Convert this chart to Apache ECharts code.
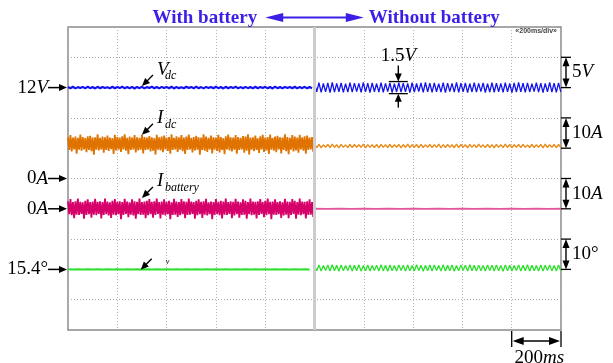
<!DOCTYPE html>
<html>
<head>
<meta charset="utf-8">
<script src="https://cdn.jsdelivr.net/npm/echarts@6/dist/echarts.min.js"></script>
<style>
  html, body { margin: 0; padding: 0; background: #fff; }
  #chart { width: 613px; height: 363px; }
</style>
</head>
<body>
<div id="chart"></div>
<script>
// ---- Time base (ms) -------------------------------------------------------
const timeSpan = [0, 2000];
const timeDiv = 200;          // 200 ms per division
const switchTime = 1000;      // battery disconnected here

// ---- Vdc (V) ------------------------------------------------------------
const vdcWithStep = 10;
const vdcWith = [
  12.10, 11.90, 12.14, 11.87, 12.08, 11.92, 12.12, 11.88, 12.15, 11.91,
  12.09, 11.86, 12.13, 11.90, 12.11, 11.93, 12.07, 11.88, 12.14, 11.89,
  12.10, 11.92, 12.16, 11.87, 12.09, 11.90, 12.12, 11.85, 12.11, 11.91,
  12.13, 11.88, 12.08, 11.93, 12.15, 11.89, 12.10, 11.87, 12.12, 11.92,
  12.09, 11.90, 12.14, 11.86, 12.11, 11.91, 12.07, 11.89, 12.13, 11.92,
  12.10, 11.88, 12.16, 11.90, 12.08, 11.87, 12.12, 11.93, 12.11, 11.89,
  12.14, 11.91, 12.09, 11.86, 12.13, 11.90, 12.10, 11.92, 12.15, 11.88,
  12.08, 11.89, 12.12, 11.91, 12.11, 11.87, 12.14, 11.90, 12.09, 11.93,
  12.13, 11.88, 12.10, 11.86, 12.15, 11.91, 12.08, 11.89, 12.12, 11.92,
  12.11, 11.90, 12.14, 11.87, 12.09, 11.91, 12.13, 11.88, 12.10, 11.90
];
const vdcWithoutStep = 9;
const vdcWithout = [
  12.72, 11.28, 12.80, 11.22, 12.68, 11.30, 12.76, 11.18, 12.84, 11.26,
  12.70, 11.32, 12.78, 11.20, 12.66, 11.27, 12.82, 11.24, 12.74, 11.34,
  12.69, 11.21, 12.85, 11.29, 12.73, 11.17, 12.77, 11.31, 12.67, 11.25,
  12.81, 11.23, 12.71, 11.33, 12.79, 11.19, 12.65, 11.28, 12.83, 11.26,
  12.75, 11.30, 12.70, 11.16, 12.80, 11.27, 12.68, 11.35, 12.76, 11.22,
  12.84, 11.29, 12.72, 11.20, 12.78, 11.31, 12.66, 11.24, 12.82, 11.18,
  12.74, 11.33, 12.69, 11.26, 12.85, 11.21, 12.73, 11.30, 12.77, 11.17,
  12.67, 11.28, 12.81, 11.25, 12.71, 11.34, 12.79, 11.19, 12.65, 11.27,
  12.83, 11.23, 12.75, 11.32, 12.70, 11.20, 12.80, 11.29, 12.68, 11.16,
  12.76, 11.26, 12.84, 11.31, 12.72, 11.22, 12.78, 11.28, 12.66, 11.35,
  12.82, 11.24, 12.74, 11.18, 12.69, 11.30, 12.85, 11.27, 12.73, 11.21,
  12.77, 11.29
];
const vdcRipple = [11.25, 12.75];   // 1.5 V peak-to-peak

// ---- Idc (A) ------------------------------------------------------------
const idcWithStep = 5;
const idcWith = [
  13.6, 9.4, 14.3, 8.9, 13.5, 9.6, 13.8, 8.2, 13.4, 9.5,
  14.5, 9.2, 13.7, 9.6, 13.3, 8.7, 13.9, 9.4, 14.1, 9.0,
  13.5, 7.9, 13.6, 9.5, 14.6, 9.3, 13.4, 9.6, 13.8, 8.5,
  13.6, 9.4, 14.2, 9.1, 13.5, 9.7, 13.3, 8.1, 14.4, 9.3,
  13.7, 9.5, 13.5, 8.8, 13.9, 9.6, 14.6, 9.2, 13.4, 8.0,
  13.8, 9.4, 13.5, 9.6, 14.3, 8.6, 13.6, 9.3, 13.4, 9.5,
  14.5, 8.3, 13.7, 9.4, 13.5, 9.6, 14.0, 8.9, 13.6, 9.2,
  13.3, 7.9, 14.4, 9.5, 13.6, 9.3, 13.8, 8.7, 14.2, 9.6,
  13.5, 9.1, 13.7, 8.2, 14.6, 9.4, 13.4, 9.6, 13.9, 8.8,
  13.6, 9.5, 14.3, 9.0, 13.5, 8.1, 13.8, 9.4, 14.5, 9.6,
  13.4, 8.6, 13.7, 9.3, 14.1, 9.5, 13.6, 7.9, 13.5, 9.4,
  14.6, 9.2, 13.8, 8.8, 13.4, 9.6, 14.2, 8.3, 13.6, 9.5,
  13.5, 9.1, 14.4, 8.6, 13.7, 9.4, 13.3, 8.0, 13.9, 9.6,
  14.5, 9.3, 13.6, 8.9, 13.5, 9.5, 14.3, 8.2, 13.7, 9.4,
  13.4, 9.6, 14.0, 8.5, 13.8, 9.2, 14.6, 7.9, 13.5, 9.5,
  13.6, 9.0, 14.2, 9.4, 13.3, 8.4, 13.9, 9.6, 14.4, 8.8,
  13.5, 9.3, 13.7, 8.1, 14.5, 9.5, 13.4, 9.2, 13.8, 8.7,
  14.1, 9.6, 13.6, 8.3, 13.5, 9.4, 14.6, 9.0, 13.7, 8.0,
  13.4, 9.5, 14.3, 8.9, 13.8, 9.3, 13.5, 8.5, 14.4, 9.6,
  13.6, 9.2, 13.9, 8.2, 14.2, 9.4, 13.5, 9.6, 13.7, 8.8
];
const idcWithoutStep = 9;
const idcWithout = [
  11.20, 10.22, 11.28, 10.15, 11.12, 10.30, 11.24, 10.18, 11.32, 10.25,
  11.16, 10.12, 11.26, 10.28, 11.10, 10.20, 11.30, 10.16, 11.22, 10.32,
  11.14, 10.24, 11.34, 10.14, 11.20, 10.27, 11.18, 10.19, 11.28, 10.10,
  11.24, 10.26, 11.12, 10.22, 11.30, 10.17, 11.16, 10.30, 11.26, 10.13,
  11.21, 10.24, 11.35, 10.20, 11.14, 10.28, 11.23, 10.15, 11.29, 10.22,
  11.11, 10.31, 11.25, 10.18, 11.19, 10.26, 11.33, 10.12, 11.17, 10.23,
  11.27, 10.29, 11.13, 10.16, 11.31, 10.21, 11.22, 10.27, 11.15, 10.14,
  11.26, 10.25, 11.20, 10.19, 11.34, 10.30, 11.12, 10.17, 11.24, 10.23,
  11.18, 10.11, 11.29, 10.28, 11.16, 10.20, 11.32, 10.24, 11.21, 10.15,
  11.14, 10.29, 11.27, 10.18, 11.23, 10.26, 11.10, 10.21, 11.30, 10.16,
  11.19, 10.27, 11.25, 10.13, 11.33, 10.22, 11.15, 10.30, 11.22, 10.19,
  11.28, 10.24
];

// ---- Ibattery (A) -------------------------------------------------------
const ibatWithStep = 5;
const ibatWith = [
  2.4, -1.8, 3.2, -2.1, 2.2, -3.1, 2.5, -1.9, 3.4, -2.0,
  2.3, -1.7, 2.1, -3.3, 2.6, -2.0, 3.1, -1.8, 2.2, -2.9,
  2.4, -1.9, 3.3, -2.1, 2.3, -1.7, 2.5, -3.2, 2.2, -2.0,
  3.4, -1.8, 2.4, -2.2, 2.1, -3.0, 2.6, -1.9, 3.2, -2.1,
  2.3, -1.8, 2.5, -3.4, 2.2, -2.0, 3.3, -1.7, 2.4, -2.8,
  2.1, -1.9, 3.1, -2.2, 2.5, -3.3, 2.3, -1.8, 3.4, -2.0,
  2.2, -1.9, 2.4, -3.1, 2.6, -2.1, 3.2, -1.8, 2.3, -2.9,
  2.5, -2.0, 3.4, -1.7, 2.2, -3.2, 2.4, -1.9, 3.1, -2.2,
  2.3, -1.8, 2.6, -3.4, 2.1, -2.0, 3.3, -1.9, 2.4, -2.7,
  2.2, -2.1, 3.2, -1.8, 2.5, -3.1, 2.3, -2.0, 3.4, -1.9,
  2.4, -1.7, 2.2, -3.3, 2.6, -2.1, 3.1, -1.8, 2.3, -3.0,
  2.5, -1.9, 3.3, -2.2, 2.1, -1.8, 2.4, -3.4, 2.2, -2.0,
  3.2, -1.8, 2.3, -2.1, 2.6, -3.2, 2.4, -1.9, 3.4, -2.0,
  2.2, -1.7, 2.5, -3.1, 2.3, -2.2, 3.3, -1.8, 2.4, -2.9,
  2.1, -2.0, 3.1, -1.9, 2.6, -3.3, 2.2, -1.8, 3.4, -2.1,
  2.4, -1.9, 2.3, -3.2, 2.5, -2.0, 3.2, -1.7, 2.2, -2.8,
  2.6, -2.1, 3.4, -1.8, 2.3, -3.4, 2.4, -1.9, 3.1, -2.0,
  2.2, -1.8, 2.5, -3.0, 2.1, -2.2, 3.3, -1.9, 2.4, -3.1,
  2.3, -2.0, 3.2, -1.7, 2.6, -3.3, 2.2, -1.9, 3.4, -2.1,
  2.4, -1.8, 2.3, -3.2, 2.5, -2.0, 3.1, -1.9, 2.2, -2.7
];
const ibatWithoutStep = 50;
const ibatWithout = [
  0.02, -0.03, 0.04, -0.02, 0.01, -0.04, 0.03, -0.01, 0.02, -0.03, 0.04,
  -0.02, 0.01, -0.03, 0.03, -0.04, 0.02, -0.01, 0.04, -0.02, 0.01
];

// ---- Load angle (deg) ---------------------------------------------------
const angleWithStep = 20;
const angleWith = [
  15.45, 15.36, 15.44, 15.35, 15.46, 15.37, 15.43, 15.34, 15.45, 15.38,
  15.44, 15.36, 15.46, 15.35, 15.43, 15.37, 15.45, 15.34, 15.44, 15.36,
  15.47, 15.35, 15.43, 15.38, 15.45, 15.36, 15.44, 15.34, 15.46, 15.37,
  15.43, 15.35, 15.45, 15.36, 15.44, 15.38, 15.46, 15.35, 15.43, 15.37,
  15.45, 15.34, 15.44, 15.36, 15.46, 15.37, 15.43, 15.35, 15.45, 15.36
];
const angleWithoutStep = 9;
const angleWithout = [
  16.78, 14.92, 16.86, 14.84, 16.70, 15.00, 16.82, 14.88, 16.92, 14.96,
  16.74, 14.80, 16.88, 14.94, 16.66, 15.02, 16.84, 14.86, 16.76, 14.98,
  16.90, 14.82, 16.72, 14.95, 16.86, 14.89, 16.68, 15.04, 16.80, 14.85,
  16.94, 14.91, 16.75, 14.79, 16.83, 14.97, 16.71, 14.87, 16.89, 15.01,
  16.77, 14.83, 16.85, 14.93, 16.69, 14.88, 16.91, 14.99, 16.79, 14.81,
  16.73, 14.95, 16.87, 14.86, 16.82, 15.03, 16.67, 14.90, 16.93, 14.84,
  16.76, 14.97, 16.84, 14.80, 16.70, 14.92, 16.88, 15.00, 16.78, 14.87,
  16.95, 14.94, 16.74, 14.83, 16.81, 14.98, 16.69, 14.89, 16.86, 15.02,
  16.77, 14.85, 16.90, 14.96, 16.72, 14.81, 16.83, 14.93, 16.79, 14.88,
  16.66, 15.01, 16.89, 14.86, 16.75, 14.95, 16.92, 14.82, 16.80, 14.99,
  16.71, 14.90, 16.85, 14.84, 16.78, 15.03, 16.87, 14.91, 16.73, 14.87,
  16.82, 14.94
];

// ---- Reference levels and scale bars -----------------------------------
const levelValues = [12, 0, 0, 15.4];
const levelUnits  = [['12', 'V'], ['0', 'A'], ['0', 'A'], ['15.4°', '']];
const levelAxes   = [0, 1, 2, 3];

const scaleBarRanges = [[12, 17], [10, 20], [0, 10], [15.4, 25.4]];
const scaleBarTexts  = [['5', 'V'], ['10', 'A'], ['10', 'A'], ['10°', '']];

// gridline rows, in divisions from the top
const gridRows = [1, 3, 5, 7, 9];

// ---- Chart ----------------------------------------------------------------
const SERIF = 'Liberation Serif, Times New Roman, serif';
const chart = echarts.init(document.getElementById('chart'));

function seg(values, t0, step) {
  return values.map((v, i) => [t0 + i * step, v]);
}
function trace(axis, data, color, width) {
  return {
    type: 'line', xAxisIndex: 0, yAxisIndex: axis, data: data,
    showSymbol: false, symbol: 'none', silent: true, z: 3,
    lineStyle: { color: color, width: width }
  };
}

const yAxisCommon = { type: 'value', show: false, splitLine: { show: false } };

chart.setOption({
  animation: false,
  grid: {
    left: 68, right: 52, top: 27, bottom: 33,
    show: true, borderColor: '#8a8a8a', borderWidth: 1.5
  },
  xAxis: {
    type: 'value', min: timeSpan[0], max: timeSpan[1], interval: timeDiv,
    axisLine: { show: false }, axisTick: { show: false }, axisLabel: { show: false },
    splitLine: { show: true, lineStyle: { color: '#b3b3b3', type: [1, 2], width: 1 } }
  },
  yAxis: [
    Object.assign({ min: -28, max: 22 }, yAxisCommon),     // Vdc, 5 V/div
    Object.assign({ min: -50, max: 50 }, yAxisCommon),     // Idc, 10 A/div
    Object.assign({ min: -40, max: 60 }, yAxisCommon),     // Ibattery, 10 A/div
    Object.assign({ min: -4.6, max: 95.4 }, yAxisCommon),  // angle, 10 deg/div
    Object.assign({ min: 0, max: 10, inverse: true }, yAxisCommon) // divisions
  ],
  series: [
    {
      type: 'line', xAxisIndex: 0, yAxisIndex: 4, data: [], silent: true, z: 1,
      markLine: {
        silent: true, symbol: ['none', 'none'], label: { show: false },
        lineStyle: { color: '#a8a8a8', type: [1, 2], width: 1 },
        data: gridRows.map(r => ({ yAxis: r }))
      }
    },
    trace(0, seg(vdcWith, 0, vdcWithStep), '#1414ee', 2.2),
    trace(0, seg(vdcWithout, switchTime, vdcWithoutStep), '#1414ee', 1.3),
    trace(1, seg(idcWith, 0, idcWithStep), '#e07300', 1.8),
    trace(1, seg(idcWithout, switchTime, idcWithoutStep), '#e98d1d', 1.4),
    trace(2, seg(ibatWith, 0, ibatWithStep), '#d6006b', 1.8),
    trace(2, seg(ibatWithout, switchTime, ibatWithoutStep), '#e2559b', 1.8),
    trace(3, seg(angleWith, 0, angleWithStep), '#2edf2e', 2),
    trace(3, seg(angleWithout, switchTime, angleWithoutStep), '#2edf2e', 1.3),
    {
      type: 'line', xAxisIndex: 0, yAxisIndex: 4, data: [], silent: true, z: 6,
      markLine: {
        silent: true, symbol: ['none', 'none'], label: { show: false }, z: 6,
        lineStyle: { color: '#cccccc', type: 'solid', width: 3 },
        data: [{ xAxis: switchTime }]
      }
    }
  ]
});

// ---- Annotations ------------------------------------------------------------
function px(t, v, axis) {
  return chart.convertToPixel({ xAxisIndex: 0, yAxisIndex: axis }, [t, v]);
}
function head(tx, ty, ux, uy, len, half, color) {
  const bx = tx - ux * len, by = ty - uy * len;
  return {
    type: 'polygon', silent: true, z: 10,
    shape: { points: [[tx, ty], [bx - uy * half, by + ux * half], [bx + uy * half, by - ux * half]] },
    style: { fill: color }
  };
}
function arrow(x1, y1, x2, y2, o) {
  const color = o.color || '#000';
  const dx = x2 - x1, dy = y2 - y1, L = Math.hypot(dx, dy);
  const ux = dx / L, uy = dy / L;
  const k = o.len * 0.7;
  const sx = o.both ? x1 + ux * k : x1, sy = o.both ? y1 + uy * k : y1;
  const els = [{
    type: 'line', silent: true, z: 10,
    shape: { x1: sx, y1: sy, x2: x2 - ux * k, y2: y2 - uy * k },
    style: { stroke: color, lineWidth: o.width || 1.3 }
  }, head(x2, y2, ux, uy, o.len, o.half, color)];
  if (o.both) els.push(head(x1, y1, -ux, -uy, o.len, o.half, color));
  return els;
}
function seg2(x1, y1, x2, y2, color, w) {
  return { type: 'line', silent: true, z: 10, shape: { x1, y1, x2, y2 },
           style: { stroke: color || '#000', lineWidth: w || 1.3 } };
}
function richText(x, y, parts, size, align, vAlign) {
  return {
    type: 'text', x: x, y: y, silent: true, z: 10,
    style: {
      text: '{n|' + parts[0] + '}' + (parts[1] ? '{i|' + parts[1] + '}' : ''),
      align: align, verticalAlign: vAlign,
      rich: {
        n: { fontFamily: SERIF, fontSize: size, fill: '#000' },
        i: { fontFamily: SERIF, fontSize: size, fontStyle: 'italic', fill: '#000' }
      }
    }
  };
}
function plainText(x, y, text, font, fill, align, vAlign) {
  return { type: 'text', x, y, silent: true, z: 10,
           style: { text, font, fill, align, verticalAlign: vAlign } };
}

const g = [];
const gridL = px(timeSpan[0], 0, 4)[0];
const gridR = px(timeSpan[1], 0, 4)[0];
const gridB = px(0, 10, 4)[1];

// headline: with / without battery
const BLUE = '#3b1fe6';
const xA = px(switchTime - timeDiv, 0, 4)[0], xB = px(switchTime + timeDiv, 0, 4)[0];
g.push(plainText(xA - 8, 18, 'With battery', 'bold 19px ' + SERIF, BLUE, 'right', 'middle'));
g.push(plainText(xB + 5, 18, 'Without battery', 'bold 19px ' + SERIF, BLUE, 'left', 'middle'));
g.push(...arrow(xA, 17.5, xB, 17.5, { color: BLUE, len: 18, half: 4.5, width: 2, both: true }));

// reference levels on the left edge
levelValues.forEach((v, i) => {
  const y = px(0, v, levelAxes[i])[1];
  g.push(richText(gridL - 20, y, levelUnits[i], 19, 'right', 'middle'));
  g.push(...arrow(gridL - 20, y, gridL - 1, y, { len: 8, half: 3.5, width: 1.5 }));
});

// trace names with pointer arrows
function pointer(tip, main, sub, subDx, subSize) {
  g.push(...arrow(tip[0] + 11, tip[1] - 11, tip[0], tip[1], { len: 8, half: 3.5, width: 1.4 }));
  if (main) g.push(plainText(tip[0] + 15, tip[1] - 7, main, 'italic 19px ' + SERIF, '#000', 'left', 'bottom'));
  g.push(plainText(tip[0] + subDx, tip[1] - 4, sub, 'italic ' + subSize + 'px ' + SERIF, '#000', 'left', 'bottom'));
}
pointer(px(300, 12.25, 0), 'V', 'dc', 23, 12);
pointer(px(300, 14.4, 1), 'I', 'dc', 23, 12);
pointer(px(300, 3.6, 2), 'I', 'battery', 23, 12);
pointer(px(295, 15.3, 3), null, 'v', 25, 8);

// scale bars on the right edge
scaleBarRanges.forEach((r, i) => {
  const y1 = px(0, r[1], i)[1], y2 = px(0, r[0], i)[1];
  const xc = gridR + 5;
  g.push(seg2(gridR, y1, gridR + 10, y1, '#000', 1.3));
  g.push(seg2(gridR, y2, gridR + 10, y2, '#000', 1.3));
  g.push(...arrow(xc, y1, xc, y2, { len: 9, half: 3.5, width: 1.4, both: true }));
  g.push(richText(gridR + 11, (y1 + y2) / 2, scaleBarTexts[i], 19, 'left', 'middle'));
});

// ripple amplitude marker on Vdc
const rt = 1340;
const rx = px(rt, 0, 0)[0];
const yTop = px(rt, vdcRipple[1], 0)[1] - 1.5;
const yBot = px(rt, vdcRipple[0], 0)[1] + 1.5;
g.push(seg2(rx - 9.5, yTop, rx + 9.5, yTop, '#000', 1.3));
g.push(seg2(rx - 9.5, yBot, rx + 9.5, yBot, '#000', 1.3));
g.push(...arrow(rx, yTop - 16, rx, yTop, { len: 8, half: 3.5, width: 1.4 }));
g.push(...arrow(rx, yBot + 14, rx, yBot, { len: 8, half: 3.5, width: 1.4 }));
g.push(richText(rx, yTop - 26, [(vdcRipple[1] - vdcRipple[0]).toFixed(1), 'V'], 19, 'center', 'middle'));

// time base marker
const xt1 = px(timeSpan[1] - timeDiv, 0, 4)[0];
g.push(seg2(xt1, gridB + 1, xt1, gridB + 17, '#000', 1.3));
g.push(seg2(gridR, gridB + 1, gridR, gridB + 17, '#000', 1.3));
g.push(...arrow(xt1 + 1, gridB + 11, gridR - 1, gridB + 11, { len: 11, half: 4, width: 1.4, both: true }));
g.push(richText((xt1 + gridR) / 2 + 3, gridB + 28, [String(timeDiv), 'ms'], 19, 'center', 'middle'));

// timebase readout
g.push(plainText(gridR - 4, px(0, 0, 4)[1] + 4, '«' + timeDiv + 'ms/div»', 'bold 7px sans-serif', '#444', 'right', 'middle'));

chart.setOption({ graphic: g });
</script>
</body>
</html>
